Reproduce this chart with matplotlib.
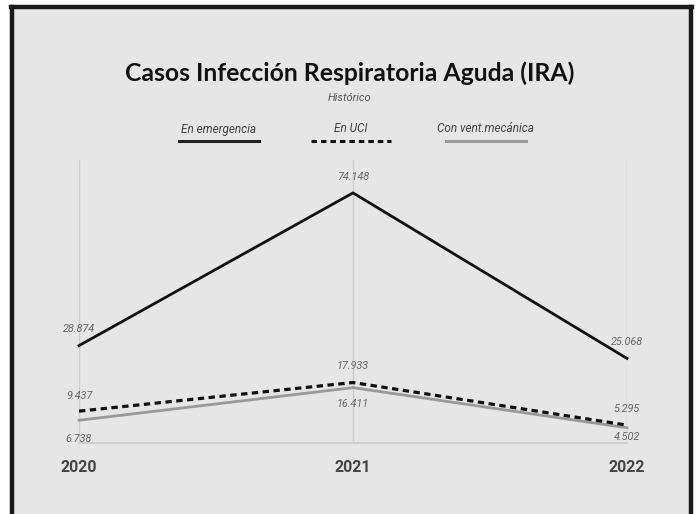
import matplotlib
matplotlib.use('Agg')
import matplotlib.pyplot as plt
from matplotlib.patches import Rectangle
from matplotlib.lines import Line2D

years = ['2020', '2021', '2022']
emergencia = [28874, 74148, 25068]
uci = [9437, 17933, 5295]
vent = [6738, 16411, 4502]
series_names = ['En emergencia', 'En UCI', 'Con vent.mecánica']

def fmt(v):
    return f'{v:,}'.replace(',', '.')

W, H = 699, 514
bg = '#e6e6e6'
lbl_font = ['Roboto', 'DejaVu Sans']

fig = plt.figure(figsize=(W / 100, H / 100), dpi=100)
fig.patch.set_facecolor('white')

# grey panel with black frame (no bottom edge)
fig.patches.append(Rectangle((14 / W, 0), (690 - 14) / W, (H - 9) / H,
                             transform=fig.transFigure, facecolor=bg, edgecolor='none', zorder=-5))
for xs, ys in [([12 / W, 12 / W], [0, 1 - 7 / H]),
               ([690.5 / W, 690.5 / W], [0, 1 - 7 / H]),
               ([10.5 / W, 692 / W], [1 - 7 / H, 1 - 7 / H])]:
    fig.lines.append(Line2D(xs, ys, transform=fig.transFigure, color='#1a1a1a', lw=3.2, zorder=-4))

ax = fig.add_axes([79 / W, (H - 443) / H, (627 - 79) / W, (443 - 160) / H])
ax.set_zorder(1)
ax.patch.set_visible(False)
x = list(range(len(years)))
ax.set_xlim(0, 2)
ax.set_ylim(0, 83900)

for xi in x:
    ax.axvline(xi, color='#cccccc', lw=1, zorder=1)
ax.axhline(0, color='#cccccc', lw=1.2, zorder=1, clip_on=False)

ax.plot(x, emergencia, color='#111111', lw=2, zorder=3, clip_on=False)
ax.plot(x, uci, color='#111111', lw=2.3, ls=(0, (2.0, 1.4)), zorder=4, clip_on=False)
ax.plot(x, vent, color='#999999', lw=2, zorder=3, clip_on=False)

for s in ax.spines.values():
    s.set_visible(False)
ax.set_xticks([])
ax.set_yticks([])

lab = dict(color='#666666', fontsize=7.8, style='italic', family=lbl_font,
           ha='center', va='center', textcoords='offset points')
# offsets in points (positive = above)
offs = {'emergencia': [12, 11.5, 11.5], 'uci': [11, 12, 11.5], 'vent': [-13.5, -12, -6.5]}
for name, vals in [('emergencia', emergencia), ('uci', uci), ('vent', vent)]:
    for xi, v, dy in zip(x, vals, offs[name]):
        ax.annotate(fmt(v), (xi, v), xytext=(0, dy), **lab)

for xi, yr in zip(x, years):
    ax.annotate(yr, (xi, 0), xytext=(0, -18), textcoords='offset points', ha='center',
                va='center', fontsize=11.5, fontweight='bold', color='#444444',
                family=['Roboto', 'DejaVu Sans'])

fig.text(0.5, 1 - 73 / H, 'Casos Infección Respiratoria Aguda (IRA)', ha='center', va='center',
         fontsize=17.8, fontweight='bold', color='#111111', family=['Lato', 'DejaVu Sans'])
fig.text(0.5, 1 - 98 / H, 'Histórico', ha='center', va='center', fontsize=8,
         style='italic', color='#555555', family=lbl_font)

leg_x = [219, 351, 486]
leg_styles = [dict(color='#222222', lw=2.2, ls='-'),
              dict(color='#111111', lw=2.2, ls=(0, (1.8, 1.3))),
              dict(color='#999999', lw=2.2, ls='-')]
for cx, name, st in zip(leg_x, series_names, leg_styles):
    fig.text(cx / W, 1 - 129 / H, name, ha='center', va='center', fontsize=8.5,
             style='italic', color='#444444', family=lbl_font)
    fig.lines.append(Line2D([(cx - 40) / W, (cx + 40) / W], [1 - 141 / H, 1 - 141 / H],
                            transform=fig.transFigure, **st))

fig.savefig('out.png', dpi=100, facecolor=fig.get_facecolor())
